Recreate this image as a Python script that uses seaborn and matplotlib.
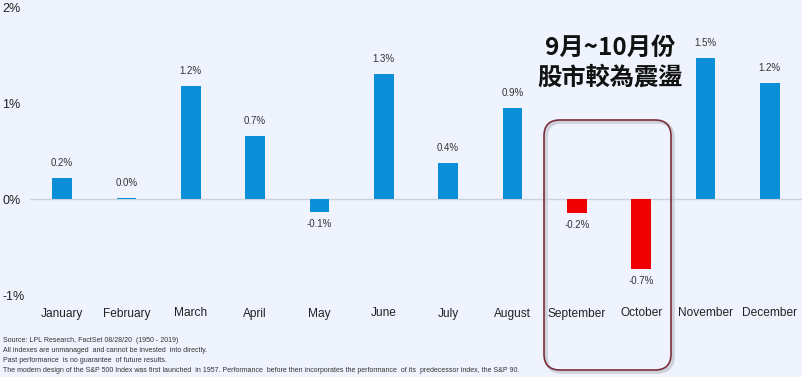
import matplotlib.pyplot as plt
import seaborn as sns
from matplotlib.patches import FancyBboxPatch

# --- data ---
months = ["January", "February", "March", "April", "May", "June",
          "July", "August", "September", "October", "November", "December"]
returns = [0.22, 0.01, 1.18, 0.66, -0.14, 1.30, 0.375, 0.95, -0.15, -0.73, 1.47, 1.21]
labels = ["0.2%", "0.0%", "1.2%", "0.7%", "-0.1%", "1.3%",
          "0.4%", "0.9%", "-0.2%", "-0.7%", "1.5%", "1.2%"]
highlight = ["September", "October"]
y_ticks = [-1, 0, 1, 2]
y_tick_labels = ["-1%", "0%", "1%", "2%"]
title_lines = ["9月~10月份", "股市較為震盪"]
notes = [
    "Source: LPL Research, FactSet 08/28/20  (1950 - 2019)",
    "All indexes are unmanaged  and cannot be invested  into directly.",
    "Past performance  is no guarantee  of future results.",
    "The modern design of the S&P 500 Index was first launched  in 1957. Performance  before then incorporates the performance  of its  predecessor index, the S&P 90.",
]

BG = "#EEF3FD"
BLUE = "#0A8FD8"
RED = "#EE0000"

sns.set_style("white")
plt.rcParams["font.family"] = ["Liberation Sans", "DejaVu Sans"]

fig = plt.figure(figsize=(8.03, 3.77), dpi=100, facecolor=BG)
ax = fig.add_axes([30 / 803, (377 - 295) / 377, 772 / 803, 288 / 377])
ax.set_facecolor(BG)

palette = [RED if m in highlight else BLUE for m in months]
sns.barplot(x=months, y=returns, hue=months, palette=palette, legend=False,
            width=0.31, saturation=1, linewidth=0, ax=ax)

ax.axhline(0, color="#CDD3DD", lw=1, zorder=0)
ax.set_xlim(-0.5, 11.5)
ax.set_ylim(-1, 2)
ax.set_yticks(y_ticks)
ax.set_yticklabels(y_tick_labels, fontsize=9, color="#222222", ha="left")
ax.tick_params(axis="y", length=0, pad=20)
ax.tick_params(axis="x", length=0, pad=9, labelsize=8.6, labelcolor="#222222")
for s in ax.spines.values():
    s.set_visible(False)

for i, (v, t) in enumerate(zip(returns, labels)):
    if v >= 0:
        ax.annotate(t, (i, v), xytext=(0, 7), textcoords="offset points",
                    ha="center", va="bottom", fontsize=7, color="#333333")
    else:
        ax.annotate(t, (i, v), xytext=(0, -5), textcoords="offset points",
                    ha="center", va="top", fontsize=7, color="#333333")

# highlight box with a soft shadow
tr = fig.dpi_scale_trans
shadow = FancyBboxPatch((5.46, 0.05), 1.27, 2.50, boxstyle="round,pad=0,rounding_size=0.16",
                        transform=tr, fc="none", ec="#B8BCC4", lw=2.5, alpha=0.6)
box = FancyBboxPatch((5.44, 0.07), 1.27, 2.50, boxstyle="round,pad=0,rounding_size=0.16",
                     transform=tr, fc="none", ec="#7A2E3A", lw=1.2)
fig.add_artist(shadow)
fig.add_artist(box)

cjk = ["Noto Sans CJK TC", "DejaVu Sans"]
fig.text(610 / 803, 1 - 48 / 377, title_lines[0], ha="center", va="center",
         fontsize=17.5, fontweight="bold", family=cjk, color="#111111")
fig.text(610 / 803, 1 - 78 / 377, title_lines[1], ha="center", va="center",
         fontsize=17.5, fontweight="bold", family=cjk, color="#111111")

for k, line in enumerate(notes):
    fig.text(3 / 803, 1 - (341 + 10 * k) / 377, line, ha="left", va="center",
             fontsize=5.0, color="#333333")

fig.savefig("out.png", dpi=100, facecolor=BG)
